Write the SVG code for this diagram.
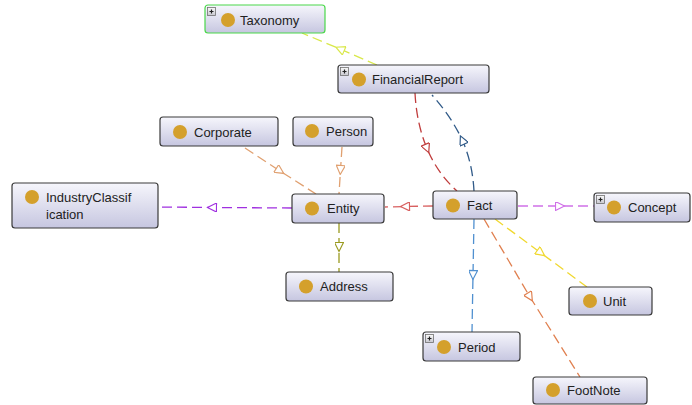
<svg xmlns="http://www.w3.org/2000/svg" width="692" height="405" viewBox="0 0 692 405">
<defs>
<linearGradient id="ng" x1="0" y1="0" x2="0" y2="1">
<stop offset="0" stop-color="#f6f6fc"/>
<stop offset="1" stop-color="#c6c6e0"/>
</linearGradient>
<linearGradient id="pg" x1="0" y1="0" x2="0" y2="1">
<stop offset="0" stop-color="#fafafa"/>
<stop offset="1" stop-color="#c8c8d0"/>
</linearGradient>
<marker id="m-yg" viewBox="0 0 10 10" refX="5" refY="5" markerWidth="11" markerHeight="9" markerUnits="userSpaceOnUse" orient="auto"><path d="M0,0 L10,5 L0,10 z" fill="#fff" stroke="#d9e84a" stroke-width="1.3"/></marker>
<marker id="m-tan" viewBox="0 0 10 10" refX="5" refY="5" markerWidth="11" markerHeight="9" markerUnits="userSpaceOnUse" orient="auto"><path d="M0,0 L10,5 L0,10 z" fill="#fff" stroke="#e0a070" stroke-width="1.3"/></marker>
<marker id="m-pur" viewBox="0 0 10 10" refX="5" refY="5" markerWidth="11" markerHeight="9" markerUnits="userSpaceOnUse" orient="auto"><path d="M0,0 L10,5 L0,10 z" fill="#fff" stroke="#a030e0" stroke-width="1.3"/></marker>
<marker id="m-ol" viewBox="0 0 10 10" refX="5" refY="5" markerWidth="11" markerHeight="9" markerUnits="userSpaceOnUse" orient="auto"><path d="M0,0 L10,5 L0,10 z" fill="#fff" stroke="#9a9a20" stroke-width="1.3"/></marker>
<marker id="m-red" viewBox="0 0 10 10" refX="5" refY="5" markerWidth="11" markerHeight="9" markerUnits="userSpaceOnUse" orient="auto"><path d="M0,0 L10,5 L0,10 z" fill="#fff" stroke="#d86060" stroke-width="1.3"/></marker>
<marker id="m-mag" viewBox="0 0 10 10" refX="5" refY="5" markerWidth="11" markerHeight="9" markerUnits="userSpaceOnUse" orient="auto"><path d="M0,0 L10,5 L0,10 z" fill="#fff" stroke="#d070e8" stroke-width="1.3"/></marker>
<marker id="m-yel" viewBox="0 0 10 10" refX="5" refY="5" markerWidth="11" markerHeight="9" markerUnits="userSpaceOnUse" orient="auto"><path d="M0,0 L10,5 L0,10 z" fill="#fff" stroke="#f0d830" stroke-width="1.3"/></marker>
<marker id="m-or" viewBox="0 0 10 10" refX="5" refY="5" markerWidth="11" markerHeight="9" markerUnits="userSpaceOnUse" orient="auto"><path d="M0,0 L10,5 L0,10 z" fill="#fff" stroke="#e08050" stroke-width="1.3"/></marker>
<marker id="m-blu" viewBox="0 0 10 10" refX="5" refY="5" markerWidth="11" markerHeight="9" markerUnits="userSpaceOnUse" orient="auto"><path d="M0,0 L10,5 L0,10 z" fill="#fff" stroke="#5090d0" stroke-width="1.3"/></marker>
<marker id="m-dred" viewBox="0 0 10 10" refX="5" refY="5" markerWidth="11" markerHeight="9" markerUnits="userSpaceOnUse" orient="auto"><path d="M0,0 L10,5 L0,10 z" fill="#fff" stroke="#c03c3c" stroke-width="1.3"/></marker>
<marker id="m-dblu" viewBox="0 0 10 10" refX="5" refY="5" markerWidth="11" markerHeight="9" markerUnits="userSpaceOnUse" orient="auto"><path d="M0,0 L10,5 L0,10 z" fill="#fff" stroke="#305a88" stroke-width="1.3"/></marker>
</defs>
<style>
.n rect.b{fill:url(#ng);stroke:#3a3a3a;stroke-width:1.2}
.n circle{fill:#d4a02c}
.n text{font-family:"Liberation Sans",Arial,sans-serif;font-size:13px;fill:#222}
.p rect{fill:url(#pg);stroke:#707070;stroke-width:0.8}
.p path{stroke:#222;stroke-width:1.2;fill:none}
.e path{fill:none;stroke-width:1.3;stroke-dasharray:10 5}
</style>
<rect width="692" height="405" fill="#fff"/>
<g id="connectors" class="e">
<path d="M377,65 L340,49 L302,33" stroke="#d9e84a" marker-mid="url(#m-yg)"/>
<path d="M245,148 L280,171 L316,194" stroke="#e0a070" marker-mid="url(#m-tan)"/>
<path d="M342,147 L340.5,170 L339,194" stroke="#e0a070" marker-mid="url(#m-tan)"/>
<path d="M292,208 L212,207.5 L158,207" stroke="#a030e0" marker-mid="url(#m-pur)"/>
<path d="M339,223 L339,247 L339,272" stroke="#9a9a20" marker-mid="url(#m-ol)"/>
<path d="M433,206 L405,206.5 L385,207" stroke="#d86060" marker-mid="url(#m-red)"/>
<path d="M518,206 L560,206 L594,206" stroke="#d070e8" marker-mid="url(#m-mag)"/>
<path d="M495,219 L541,253 L587,287" stroke="#f0d830" marker-mid="url(#m-yel)"/>
<path d="M484,219 L530,297 L580,377" stroke="#e08050" marker-mid="url(#m-or)"/>
<path d="M474,219 L473,275 L472,332" stroke="#5090d0" marker-mid="url(#m-blu)"/>
<path d="M415,93 Q416.5,123.5 427,148.5 Q437.5,173.5 457,191" stroke="#c03c3c" marker-mid="url(#m-dred)"/>
<path d="M474,191 Q472.5,163 462.25,140 Q451.5,117 432,95" stroke="#305a88" marker-mid="url(#m-dblu)"/>
</g>
<g id="Taxonomy" class="n">
<rect class="b" x="205" y="5" width="120" height="28" rx="3" style="stroke:#4ad84a"/>
<g class="p"><rect x="207.5" y="7.5" width="8" height="8"/><path d="M209.5,11.5h4M211.5,9.5v4"/></g>
<circle cx="228" cy="20" r="7"/>
<text x="240" y="24.5">Taxonomy</text>
</g>
<g id="FinancialReport" class="n">
<rect class="b" x="338" y="65" width="151" height="28" rx="3"/>
<g class="p"><rect x="340.5" y="67.5" width="8" height="8"/><path d="M342.5,71.5h4M344.5,69.5v4"/></g>
<circle cx="359" cy="79.5" r="7"/>
<text x="372" y="84">FinancialReport</text>
</g>
<g id="Corporate" class="n">
<rect class="b" x="160" y="117" width="118" height="29" rx="3"/>
<circle cx="180" cy="132" r="7"/>
<text x="194" y="136.5">Corporate</text>
</g>
<g id="Person" class="n">
<rect class="b" x="293" y="117" width="80" height="29" rx="3"/>
<circle cx="312" cy="131" r="7"/>
<text x="326" y="135.5">Person</text>
</g>
<g id="IndustryClassification" class="n">
<rect class="b" x="12" y="183" width="146" height="45" rx="3"/>
<circle cx="32" cy="197" r="7"/>
<text x="46" y="201.5">IndustryClassif</text>
<text x="46" y="219">ication</text>
</g>
<g id="Entity" class="n">
<rect class="b" x="292" y="194" width="92" height="29" rx="3"/>
<circle cx="312" cy="208.5" r="7"/>
<text x="327" y="213">Entity</text>
</g>
<g id="Fact" class="n">
<rect class="b" x="433" y="191" width="84" height="28" rx="3"/>
<circle cx="453" cy="205.5" r="7"/>
<text x="467" y="210">Fact</text>
</g>
<g id="Concept" class="n">
<rect class="b" x="594" y="193" width="96" height="29" rx="3"/>
<g class="p"><rect x="596.5" y="195.5" width="8" height="8"/><path d="M598.5,199.5h4M600.5,197.5v4"/></g>
<circle cx="614" cy="207.5" r="7"/>
<text x="628" y="212">Concept</text>
</g>
<g id="Address" class="n">
<rect class="b" x="286" y="272" width="107" height="29" rx="3"/>
<circle cx="306" cy="286.5" r="7"/>
<text x="320" y="291">Address</text>
</g>
<g id="Unit" class="n">
<rect class="b" x="569" y="287" width="83" height="28" rx="3"/>
<circle cx="590" cy="301" r="7"/>
<text x="603" y="305.5">Unit</text>
</g>
<g id="Period" class="n">
<rect class="b" x="423" y="332" width="97" height="29" rx="3"/>
<g class="p"><rect x="425.5" y="334.5" width="8" height="8"/><path d="M427.5,338.5h4M429.5,336.5v4"/></g>
<circle cx="444" cy="347" r="7"/>
<text x="458" y="351.5">Period</text>
</g>
<g id="FootNote" class="n">
<rect class="b" x="533" y="377" width="114" height="27" rx="3"/>
<circle cx="553" cy="390" r="7"/>
<text x="567" y="394.5">FootNote</text>
</g>
</svg>
